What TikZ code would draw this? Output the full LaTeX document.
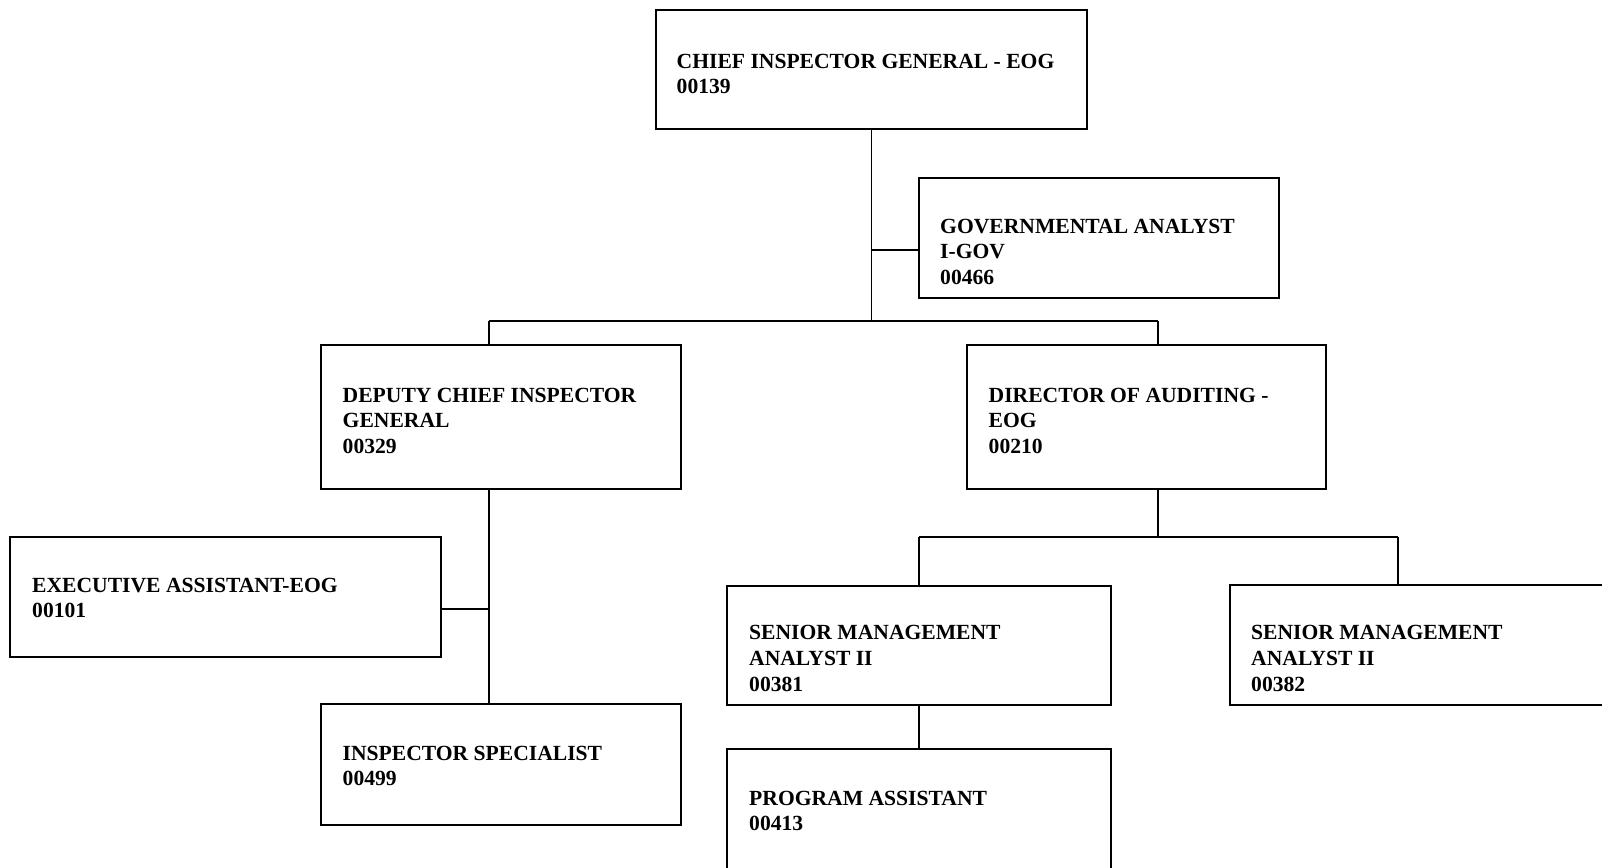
\documentclass[tikz,border=0pt]{standalone}
\usepackage{fontspec}
\setmainfont{Liberation Serif}
\begin{document}
\begin{tikzpicture}[x=1pt,y=-1pt,
  box/.style={draw=black,line width=2.8pt,rectangle,inner sep=0pt,outer sep=0pt,anchor=north west},
  lbl/.style={anchor=north west,inner sep=0pt,align=left,
    font=\fontsize{21.6}{25.8}\selectfont\bfseries},
  link/.style={draw=black,line width=1.9pt}]
\useasboundingbox (0,0) rectangle (1602,867);
\clip (0,0) rectangle (1602,867);

% boxes
\node[box,minimum width=431pt,minimum height=119pt] (chief) at (656,10) {};
\node[box,minimum width=360pt,minimum height=120pt] (gov) at (919,178) {};
\node[box,minimum width=360pt,minimum height=144pt] (deputy) at (321,345) {};
\node[box,minimum width=359pt,minimum height=144pt] (director) at (967,345) {};
\node[box,minimum width=431pt,minimum height=120pt] (exec) at (10,537) {};
\node[box,minimum width=360pt,minimum height=121pt] (insp) at (321,704) {};
\node[box,minimum width=384pt,minimum height=119pt] (sma1) at (727,586) {};
\node[box,minimum width=400pt,minimum height=120pt] (sma2) at (1230,585) {};
\node[box,minimum width=384pt,minimum height=140pt] (prog) at (727,749) {};

% titles
\node[lbl] (tchief) at (676.5,53.5) {CHIEF INSPECTOR GENERAL - EOG\\00139};
\node[lbl] (tgov) at (940,218.5) {GOVERNMENTAL ANALYST\\I-GOV\\00466};
\node[lbl] (tdeputy) at (342.5,387.5) {DEPUTY CHIEF INSPECTOR\\GENERAL\\00329};
\node[lbl] (tdirector) at (988.5,387.5) {DIRECTOR OF AUDITING -\\EOG\\00210};
\node[lbl] (texec) at (32,577.5) {EXECUTIVE ASSISTANT-EOG\\00101};
\node[lbl] (tinsp) at (342.5,745.5) {INSPECTOR SPECIALIST\\00499};
\node[lbl] (tsma1) at (749,625) {SENIOR MANAGEMENT\\ANALYST II\\00381};
\node[lbl] (tsma2) at (1251,625) {SENIOR MANAGEMENT\\ANALYST II\\00382};
\node[lbl] (tprog) at (749,790.5) {PROGRAM ASSISTANT\\00413};

% junction points
\coordinate (busL) at (489,321);
\coordinate (busR) at (1158,321);
\coordinate (jgov) at (872,250);
\coordinate (jexec) at (489,609);
\coordinate (busL2) at (919,537);
\coordinate (busR2) at (1398,537);

% connectors
\draw[link] (chief.south) -- (chief.south |- busL);
\draw[link] (jgov) -- (jgov -| gov.west);
\draw[link] (busL) -- (busR);
\draw[link] (busL) -- (busL |- deputy.north);
\draw[link] (busR) -- (busR |- director.north);
\draw[link] (busL |- deputy.south) -- (busL |- insp.north);
\draw[link] (jexec) -- (jexec -| exec.east);
\draw[link] (busR |- director.south) -- (busR |- busL2);
\draw[link] (busL2) -- (busR2);
\draw[link] (busL2) -- (busL2 |- sma1.north);
\draw[link] (busR2) -- (busR2 |- sma2.north);
\draw[link] (busL2 |- sma1.south) -- (busL2 |- prog.north);
\end{tikzpicture}
\end{document}
